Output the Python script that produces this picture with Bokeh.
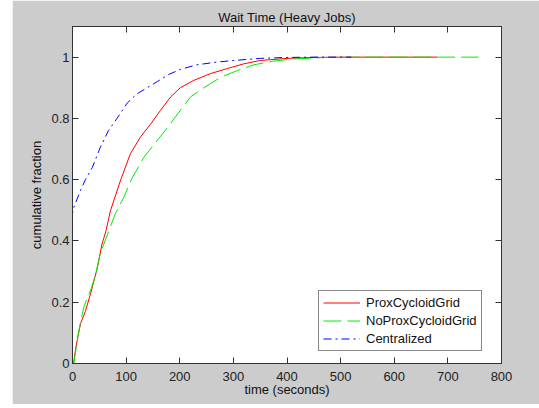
from bokeh.plotting import figure
from bokeh.models import Range1d, LinearAxis, FixedTicker, PrintfTickFormatter, Legend, LegendItem, CustomJSTickFormatter
from bokeh.embed import file_html
from bokeh.resources import INLINE

# ---- data ----
title_text = "Wait Time (Heavy Jobs)"
x_ticks = [0, 100, 200, 300, 400, 500, 600, 700, 800]
y_ticks = [0, 0.2, 0.4, 0.6, 0.8, 1]

prox_x = [0, 2, 6, 15, 24, 34, 46, 55, 62, 71, 90, 108, 127, 145, 164, 183, 201,
          226, 257, 289, 319, 350, 400, 450, 500, 560, 620, 680]
prox_y = [0, 0, 0.05, 0.13, 0.17, 0.23, 0.31, 0.39, 0.43, 0.50, 0.60, 0.685, 0.74,
          0.78, 0.826, 0.87, 0.90, 0.924, 0.946, 0.963, 0.978, 0.989, 0.996, 0.999,
          1.0, 1.0, 1.0, 1.0]

noprox_x = [0, 2, 6, 11, 18, 22, 34, 43, 52, 65, 80, 95, 111, 133, 158, 177, 201,
            220, 245, 276, 307, 338, 375, 412, 475, 550, 650, 757]
noprox_y = [0, 0, 0.04, 0.10, 0.16, 0.19, 0.24, 0.29, 0.36, 0.42, 0.49, 0.54, 0.605,
            0.673, 0.728, 0.77, 0.826, 0.87, 0.90, 0.934, 0.956, 0.975, 0.987, 0.994,
            0.999, 1.0, 1.0, 1.0]

cent_x = [0, 0, 2.5, 15, 24, 37, 52, 67, 83, 102, 120, 139, 158, 179, 201, 232, 270,
          307, 350, 400, 450, 520]
cent_y = [0, 0.49, 0.51, 0.565, 0.60, 0.64, 0.706, 0.76, 0.80, 0.85, 0.88, 0.90, 0.92,
          0.943, 0.96, 0.975, 0.984, 0.99, 0.996, 0.999, 1.0, 1.0]

series_names = ["ProxCycloidGrid", "NoProxCycloidGrid", "Centralized"]

FONT = "Liberation Sans"
FS = "13px"
AX = "#333333"

p = figure(width=527, height=404, output_backend="svg", toolbar_location=None,
           x_range=Range1d(0, 800), y_range=Range1d(0, 1.1),
           min_border_left=60, min_border_right=38, min_border_top=26, min_border_bottom=41,
           background_fill_color="white", border_fill_color="#cccccc",
           outline_line_color=AX, margin=(0, 0, 0, 12),
           title=title_text)

p.title.align = "center"
p.title.text_font = FONT
p.title.text_font_size = FS
p.title.text_font_style = "normal"
p.title.text_color = "#111111"
p.title.standoff = 3

p.xgrid.visible = False
p.ygrid.visible = False

def style_axis(ax, ticks, labels=True):
    ax.ticker = FixedTicker(ticks=ticks)
    ax.major_tick_in = 6
    ax.major_tick_out = 0
    ax.minor_tick_line_color = None
    ax.axis_line_color = AX
    ax.major_tick_line_color = AX
    if labels:
        ax.major_label_text_font = FONT
        ax.major_label_text_font_size = FS
        ax.major_label_text_color = "#222222"
        ax.axis_label_text_font = FONT
        ax.axis_label_text_font_size = FS
        ax.axis_label_text_font_style = "normal"
        ax.axis_label_text_color = "#111111"
    else:
        ax.formatter = CustomJSTickFormatter(code="return '';")
        ax.major_label_standoff = 0

style_axis(p.xaxis[0], x_ticks)
style_axis(p.yaxis[0], y_ticks)
p.yaxis[0].formatter = PrintfTickFormatter(format="%g")
p.xaxis[0].axis_label = "time (seconds)"
p.yaxis[0].axis_label = "cumulative fraction"
p.xaxis[0].major_label_standoff = 8
p.xaxis[0].axis_label_standoff = -2
p.yaxis[0].major_label_standoff = 3
p.yaxis[0].axis_label_standoff = 4

top_ax = LinearAxis()
style_axis(top_ax, x_ticks, labels=False)
p.add_layout(top_ax, "above")
right_ax = LinearAxis()
style_axis(right_ax, y_ticks, labels=False)
p.add_layout(right_ax, "right")

r1 = p.line(prox_x, prox_y, line_color="#ff0000", line_width=1)
r2 = p.line(noprox_x, noprox_y, line_color="#00ee00", line_width=1, line_dash="18 6")
r3 = p.line(cent_x, cent_y, line_color="#0000ff", line_width=1, line_dash="8 4 2 4")

legend = Legend(items=[LegendItem(label=series_names[0], renderers=[r1]),
                       LegendItem(label=series_names[1], renderers=[r2]),
                       LegendItem(label=series_names[2], renderers=[r3])],
                location=(246, 12))
legend.label_text_font = FONT
legend.label_text_font_size = FS
legend.label_text_color = "#111111"
legend.glyph_width = 37
legend.glyph_height = 15
legend.label_height = 15
legend.label_standoff = 6
legend.spacing = 3
legend.padding = 4
legend.margin = 0
legend.border_line_color = "#111111"
legend.background_fill_color = "white"
legend.background_fill_alpha = 1
p.add_layout(legend)

open("out.html", "w").write(file_html(p, INLINE))
